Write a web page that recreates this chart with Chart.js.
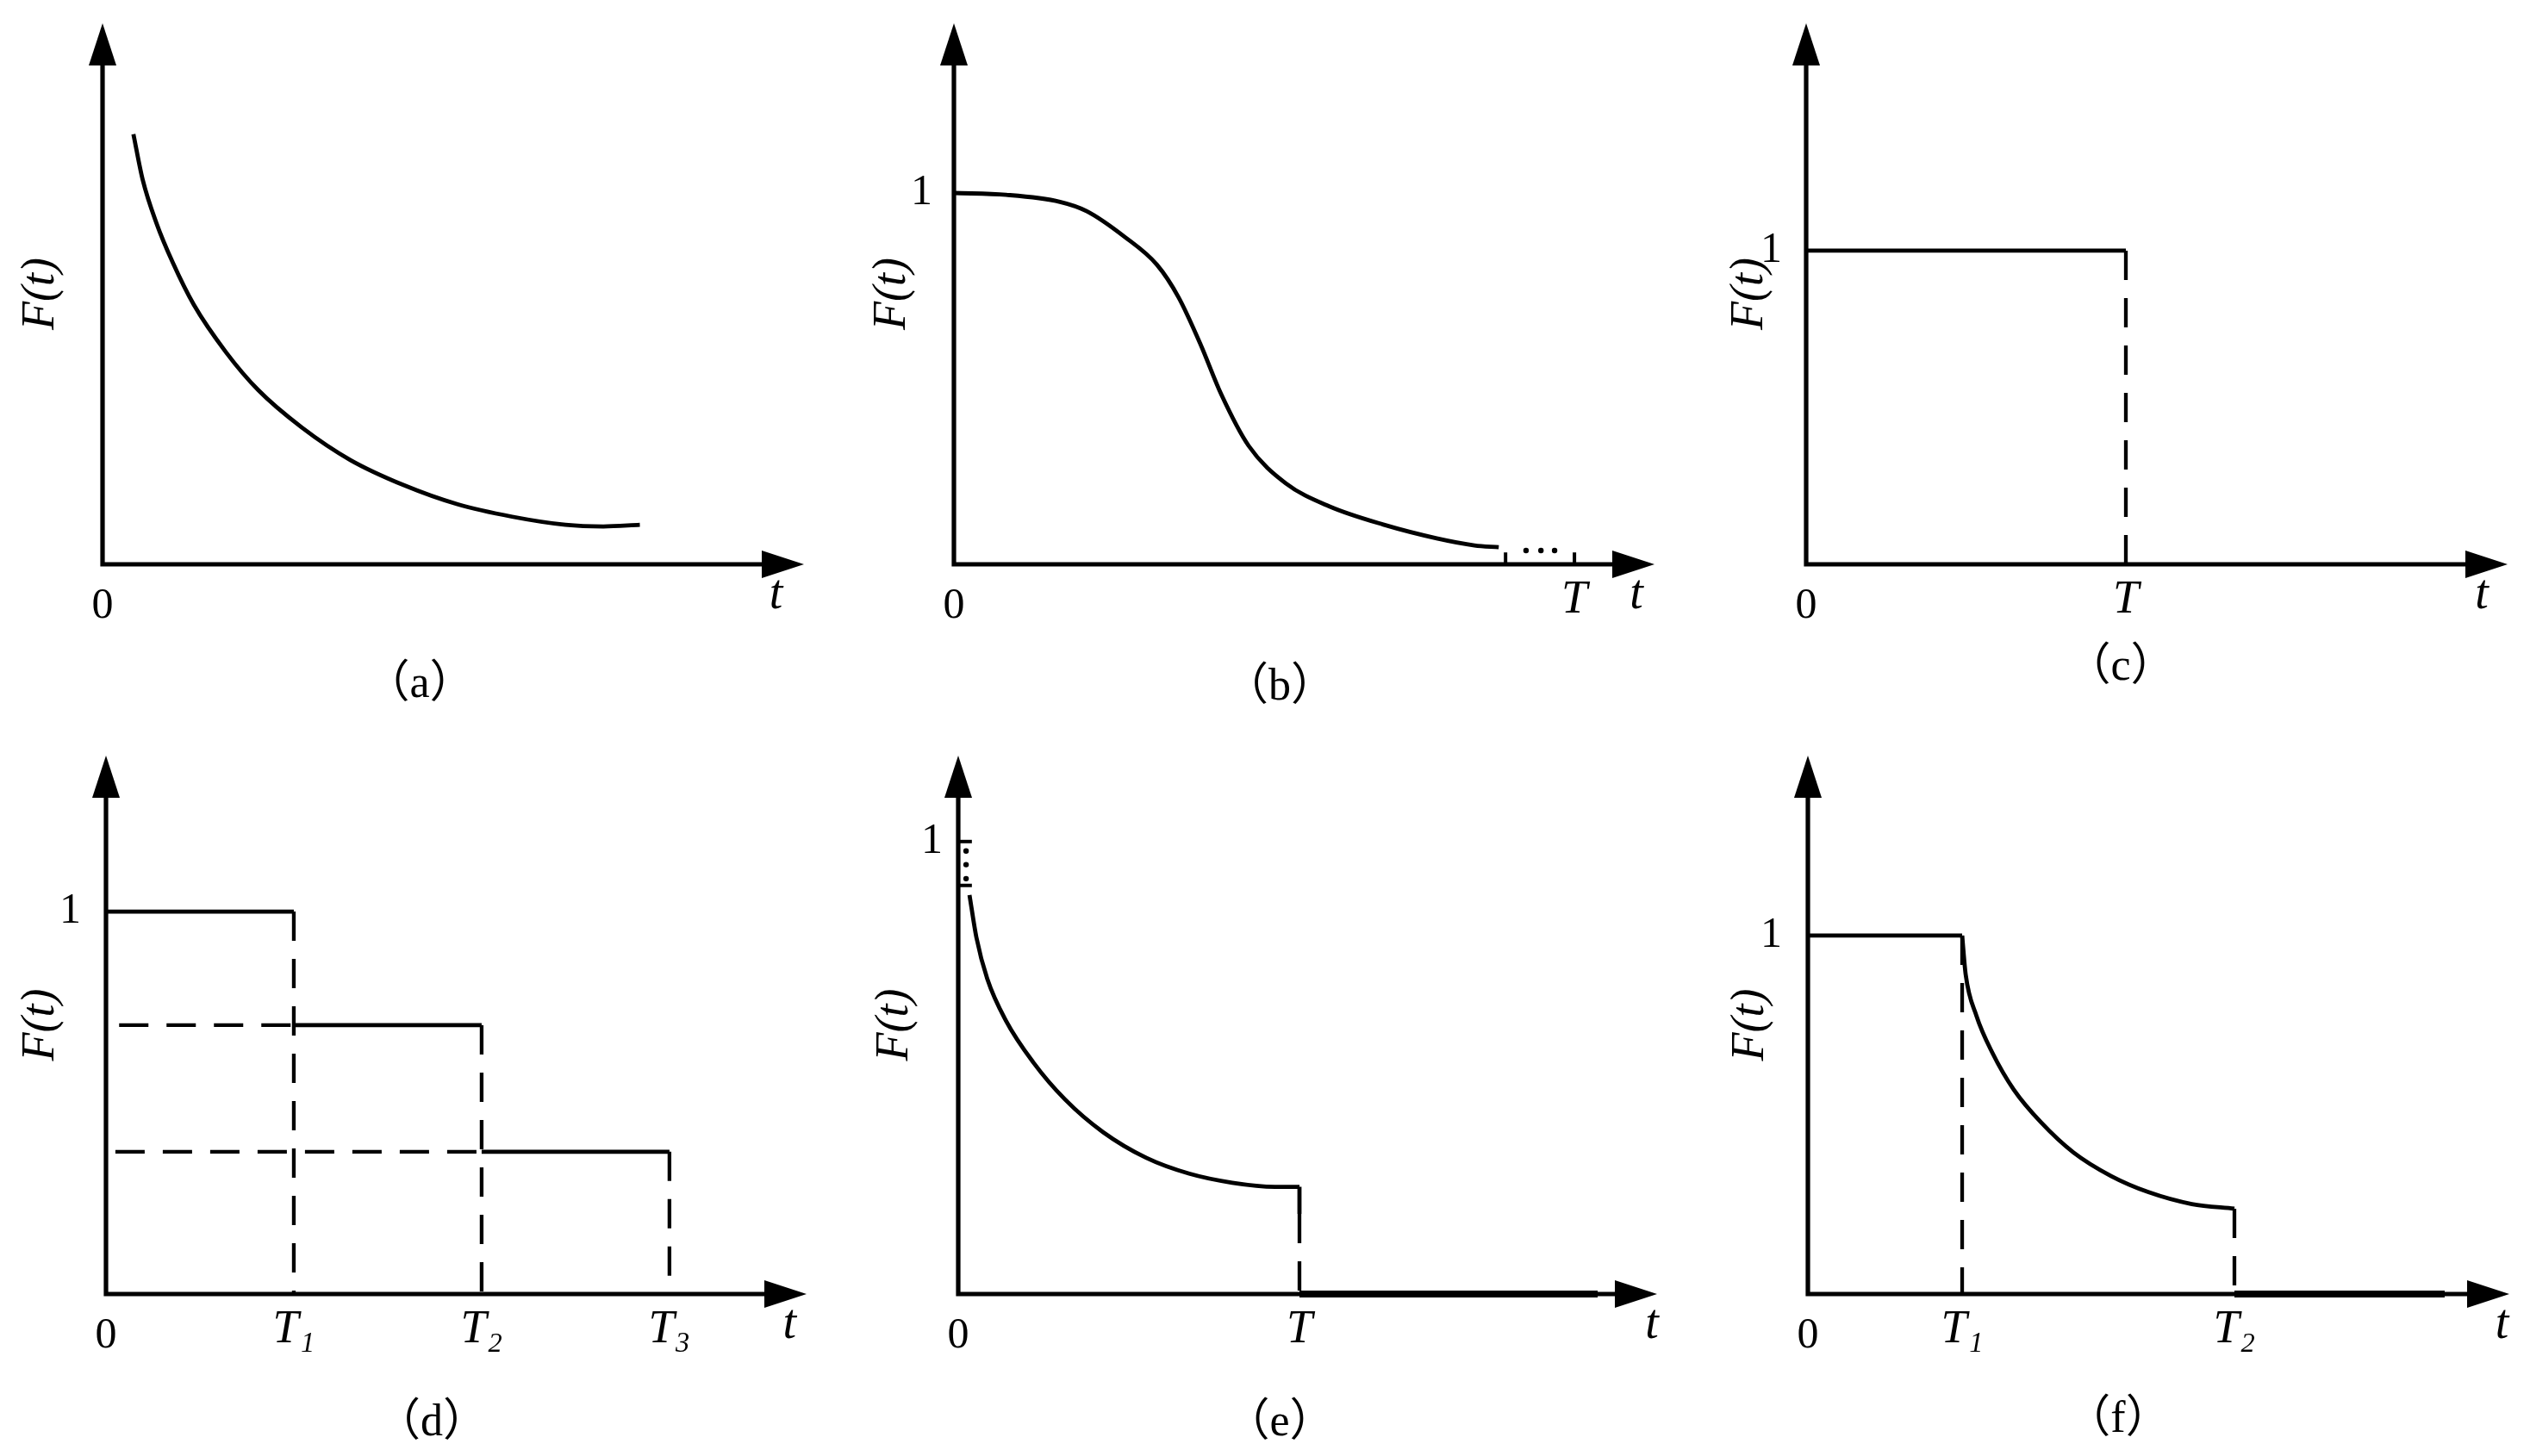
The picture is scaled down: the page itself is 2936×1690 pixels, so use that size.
<!DOCTYPE html>
<html lang="zh">
<head>
<meta charset="utf-8">
<title>F(t)</title>
<script src="https://cdn.jsdelivr.net/npm/chart.js@4.4.1/dist/chart.umd.min.js"></script>
<style>
  html, body { margin: 0; padding: 0; background: #fff; }
  body { width: 2936px; height: 1690px; position: relative; overflow: hidden; }
  canvas { position: absolute; }
</style>
</head>
<body>
<canvas id="panelA"></canvas>
<canvas id="panelB"></canvas>
<canvas id="panelC"></canvas>
<canvas id="panelD"></canvas>
<canvas id="panelE"></canvas>
<canvas id="panelF"></canvas>
<script>
// datos (unidades de cada eje: T = 1, F = 1)

// (a) curva decreciente (eje en unidades 0..10)
const tA = [0.44, 0.57, 0.77, 1.00, 1.30, 1.76, 2.22, 2.84, 3.53, 4.30, 5.06, 5.84, 6.60, 7.14, 7.66];
const fA = [7.95, 7.12, 6.30, 5.58, 4.80, 3.92, 3.22, 2.53, 1.93, 1.46, 1.11, 0.88, 0.73, 0.70, 0.73];
const ticksXA = [0, 9.6];
const etiquetasXA = ['0', 't'];

// (b) curva en S hasta T
const tB = [0, 0.084, 0.171, 0.214, 0.275, 0.327, 0.362, 0.397, 0.431, 0.475, 0.535, 0.605, 0.692, 0.778, 0.839, 0.878];
const fB = [1.0, 0.995, 0.976, 0.951, 0.882, 0.807, 0.719, 0.594, 0.457, 0.319, 0.218, 0.156, 0.107, 0.070, 0.051, 0.046];
const marcasB = [0.889, 1.0];
const altoMarcaB = [0, 0.032];
const puntosBx = [0.922, 0.946, 0.968];
const puntosBy = [0.037, 0.037, 0.037];
const ticksXB = [0, 1, 1.1];
const etiquetasXB = ['0', 'T', 't'];

// (c) escalon hasta T
const tC = [0, 1];
const fC = [1, 1];
const ticksXC = [0, 1, 2.113];
const etiquetasXC = ['0', 'T', 't'];

// (d) tres escalones
const cortesD = [1, 2, 3];
const nivelesD = [1, 0.703, 0.372];
const inicioGuionD = [null, 0.07, 0.05];
const ticksXD = [0, 1, 2, 3, 3.64];
const etiquetasXD = ['0', 'T\u2081', 'T\u2082', 'T\u2083', 't'];

// (e) curva hasta T y luego cero
const tE = [0.033, 0.053, 0.085, 0.140, 0.219, 0.313, 0.424, 0.551, 0.677, 0.803, 0.929, 1.0];
const fE = [0.882, 0.789, 0.697, 0.604, 0.513, 0.430, 0.358, 0.301, 0.266, 0.246, 0.237, 0.237];
const finCeroE = 1.874;
const marcasE = [1, 0.903];
const largoMarcaE = [0, 0.04];
const puntosEx = [0.023, 0.023, 0.023];
const puntosEy = [0.979, 0.949, 0.918];
const ticksXE = [0, 1, 2.033];
const etiquetasXE = ['0', 'T', 't'];

// (f) plano hasta T1, curva hasta T2, luego cero
const planoF = [0, 1];
const tF = [1.0, 1.023, 1.092, 1.196, 1.335, 1.511, 1.721, 1.966, 2.209, 2.489, 2.765];
const fF = [1.0, 0.891, 0.777, 0.673, 0.570, 0.479, 0.395, 0.329, 0.284, 0.251, 0.238];
const finCeroF = 4.128;
const ticksXF = [0, 1, 2.765, 4.5];
const etiquetasXF = ['0', 'T\u2081', 'T\u2082', 't'];

const ticksY1 = [1];
const etiquetasY1 = ['1'];

// marco de cada panel en la pagina (px)
const marcos = {
  a: {ejeX: 119,  puntaX: 933,  ejeY: 655,  puntaY: 27,  leyX: 487,  leyY: 795,  gapF: 71, padTick: 25, xmax: 10,    ymax: 10},
  b: {ejeX: 1107, puntaX: 1920, ejeY: 655,  puntaY: 27,  leyX: 1485, leyY: 798,  gapF: 71, padTick: 25, xmax: 1.129, ymax: 1.457},
  c: {ejeX: 2096, puntaX: 2910, ejeY: 655,  puntaY: 27,  leyX: 2461, leyY: 775,  gapF: 65, padTick: 28, xmax: 2.194, ymax: 1.725},
  d: {ejeX: 123,  puntaX: 936,  ejeY: 1502, puntaY: 877, leyX: 501,  leyY: 1652, gapF: 75, padTick: 29, xmax: 3.73,  ymax: 1.408},
  e: {ejeX: 1112, puntaX: 1923, ejeY: 1502, puntaY: 877, leyX: 1485, leyY: 1652, gapF: 73, padTick: 18, xmax: 2.048, ymax: 1.190},
  f: {ejeX: 2098, puntaX: 2912, ejeY: 1502, puntaY: 877, leyX: 2458, leyY: 1648, gapF: 66, padTick: 30, xmax: 4.547, ymax: 1.502}
};

const serif = "'Liberation Serif', 'Times New Roman', serif";
const serifCjk = "'Liberation Serif', 'Noto Sans CJK SC', serif";

function pares(xs, ys) {
  return xs.map((x, i) => ({x: x, y: ys[i]}));
}

function solida(data, ancho) {
  return {data: data, showLine: true, borderColor: '#000', borderWidth: ancho || 4.8,
          pointRadius: 0, tension: 0, clip: false, borderCapStyle: 'butt'};
}
function curva(data) {
  const d = solida(data);
  d.cubicInterpolationMode = 'monotone';
  return d;
}
function guiones(data) {
  const d = solida(data, 4.3);
  d.borderDash = [34, 21];
  return d;
}
function puntos(data) {
  return {data: data, showLine: false, pointRadius: 3.2, pointBackgroundColor: '#000',
          pointBorderWidth: 0, clip: false};
}

// ejes con flechas
const ejes = {
  id: 'ejes',
  beforeDatasetsDraw(chart) {
    const {ctx, scales: {x, y}} = chart;
    const x0 = x.getPixelForValue(0), y0 = y.getPixelForValue(0);
    const xf = x.getPixelForValue(x.max), yf = y.getPixelForValue(y.max);
    const largo = 49, media = 16;
    ctx.save();
    ctx.strokeStyle = '#000';
    ctx.fillStyle = '#000';
    ctx.lineWidth = 5.2;
    ctx.lineJoin = 'miter';
    ctx.beginPath();
    ctx.moveTo(x0, yf + largo - 2);
    ctx.lineTo(x0, y0);
    ctx.lineTo(xf - largo + 2, y0);
    ctx.stroke();
    ctx.beginPath();
    ctx.moveTo(x0, yf);
    ctx.lineTo(x0 - media, yf + largo);
    ctx.lineTo(x0 + media, yf + largo);
    ctx.closePath();
    ctx.fill();
    ctx.beginPath();
    ctx.moveTo(xf, y0);
    ctx.lineTo(xf - largo, y0 - media);
    ctx.lineTo(xf - largo, y0 + media);
    ctx.closePath();
    ctx.fill();
    ctx.restore();
  }
};

function fuenteTick(c) {
  const lab = c.tick ? c.tick.label : '';
  if (lab === 't') return {family: serif, size: 56, style: 'italic', lineHeight: 0.6};
  if (lab && lab[0] === 'T') return {family: serif, size: 54, style: 'italic', lineHeight: 0.85};
  return {family: serif, size: 50, lineHeight: 1.2};
}

function crearPanel(id, m, datasets, ticksX, etiquetasX, ticksY, etiquetasY, leyenda) {
  const W = m.ejeX + m.puntaX - 2 * m.leyX;
  const padL = Math.max(0, m.gapF + 40 - W);
  const padR = 20, padT = 10;
  const izq = m.ejeX - W - padL;
  const arriba = m.puntaY - padT;
  const abajo = m.leyY + 26;
  const H = abajo - 52 - m.ejeY;

  const canvas = document.getElementById(id);
  canvas.width = m.puntaX + padR - izq;
  canvas.height = abajo - arriba;
  canvas.style.left = izq + 'px';
  canvas.style.top = arriba + 'px';

  new Chart(canvas.getContext('2d'), {
    type: 'scatter',
    data: {datasets: datasets},
    options: {
      responsive: false,
      animation: false,
      events: [],
      layout: {padding: {left: padL, right: padR, top: padT, bottom: 0}},
      plugins: {
        legend: {display: false},
        tooltip: {enabled: false},
        title: {
          display: true,
          position: 'bottom',
          text: leyenda,
          color: '#000',
          font: {family: serifCjk, size: 52, weight: 'normal', lineHeight: 1},
          padding: 0
        }
      },
      scales: {
        x: {
          type: 'linear', min: 0, max: m.xmax,
          grid: {display: false, drawTicks: false, tickLength: 0},
          border: {display: false},
          afterBuildTicks: (s) => { s.ticks = ticksX.map(v => ({value: v})); },
          afterFit: (s) => { s.height = H; s.paddingLeft = 0; s.paddingRight = 0; },
          ticks: {
            autoSkip: false, maxRotation: 0, padding: 19, color: '#000',
            callback: (v, i) => etiquetasX[i],
            font: fuenteTick
          }
        },
        y: {
          type: 'linear', min: 0, max: m.ymax,
          grid: {display: false, drawTicks: false, tickLength: 0},
          border: {display: false},
          afterBuildTicks: (s) => { s.ticks = ticksY.map(v => ({value: v})); },
          afterFit: (s) => { s.width = W; s.paddingTop = 0; s.paddingBottom = 0; },
          ticks: {
            display: ticksY.length > 0,
            autoSkip: false, padding: m.padTick, color: '#000',
            callback: (v, i) => etiquetasY[i],
            font: fuenteTick
          },
          title: {
            display: true,
            text: 'F(t)',
            color: '#000',
            font: {family: serif, size: 54, style: 'italic', lineHeight: 1},
            padding: {top: W - m.gapF - 27, bottom: 0}
          }
        }
      }
    },
    plugins: [ejes]
  });
}

document.addEventListener('DOMContentLoaded', () => {
  // (a)
  crearPanel('panelA', marcos.a, [curva(pares(tA, fA))],
    ticksXA, etiquetasXA, [], [], '\uff08a\uff09');

  // (b)
  const dsB = [curva(pares(tB, fB))];
  marcasB.forEach(t => dsB.push(solida(pares([t, t], altoMarcaB), 4)));
  dsB.push(puntos(pares(puntosBx, puntosBy)));
  crearPanel('panelB', marcos.b, dsB, ticksXB, etiquetasXB, ticksY1, etiquetasY1, '\uff08b\uff09');

  // (c)
  const dsC = [
    solida(pares(tC, fC)),
    guiones(pares([tC[1], tC[1]], [fC[1], 0]))
  ];
  crearPanel('panelC', marcos.c, dsC, ticksXC, etiquetasXC, ticksY1, etiquetasY1, '\uff08c\uff09');

  // (d)
  const dsD = [];
  cortesD.forEach((t, i) => {
    const desde = i === 0 ? 0 : cortesD[i - 1];
    dsD.push(solida(pares([desde, t], [nivelesD[i], nivelesD[i]])));
    dsD.push(guiones(pares([t, t], [nivelesD[i], 0])));
    if (inicioGuionD[i] !== null) {
      dsD.push(guiones(pares([inicioGuionD[i], desde], [nivelesD[i], nivelesD[i]])));
    }
  });
  crearPanel('panelD', marcos.d, dsD, ticksXD, etiquetasXD, ticksY1, etiquetasY1, '\uff08d\uff09');

  // (e)
  const ultE = fE[fE.length - 1];
  const dsE = [
    curva(pares(tE, fE)),
    solida(pares([1, 1], [ultE, ultE - 0.06])),
    guiones(pares([1, 1], [ultE - 0.06, 0])),
    solida(pares([1, finCeroE], [0, 0]), 8)
  ];
  marcasE.forEach(v => dsE.push(solida(pares(largoMarcaE, [v, v]), 4)));
  dsE.push(puntos(pares(puntosEx, puntosEy)));
  crearPanel('panelE', marcos.e, dsE, ticksXE, etiquetasXE, ticksY1, etiquetasY1, '\uff08e\uff09');

  // (f)
  const t2 = tF[tF.length - 1];
  const ultF = fF[fF.length - 1];
  const dsF = [
    solida(pares(planoF, [1, 1])),
    curva(pares(tF, fF)),
    guiones(pares([1, 1], [1, 0])),
    guiones(pares([t2, t2], [ultF, 0])),
    solida(pares([t2, finCeroF], [0, 0]), 8)
  ];
  crearPanel('panelF', marcos.f, dsF, ticksXF, etiquetasXF, ticksY1, etiquetasY1, '\uff08f\uff09');
});
</script>
</body>
</html>
